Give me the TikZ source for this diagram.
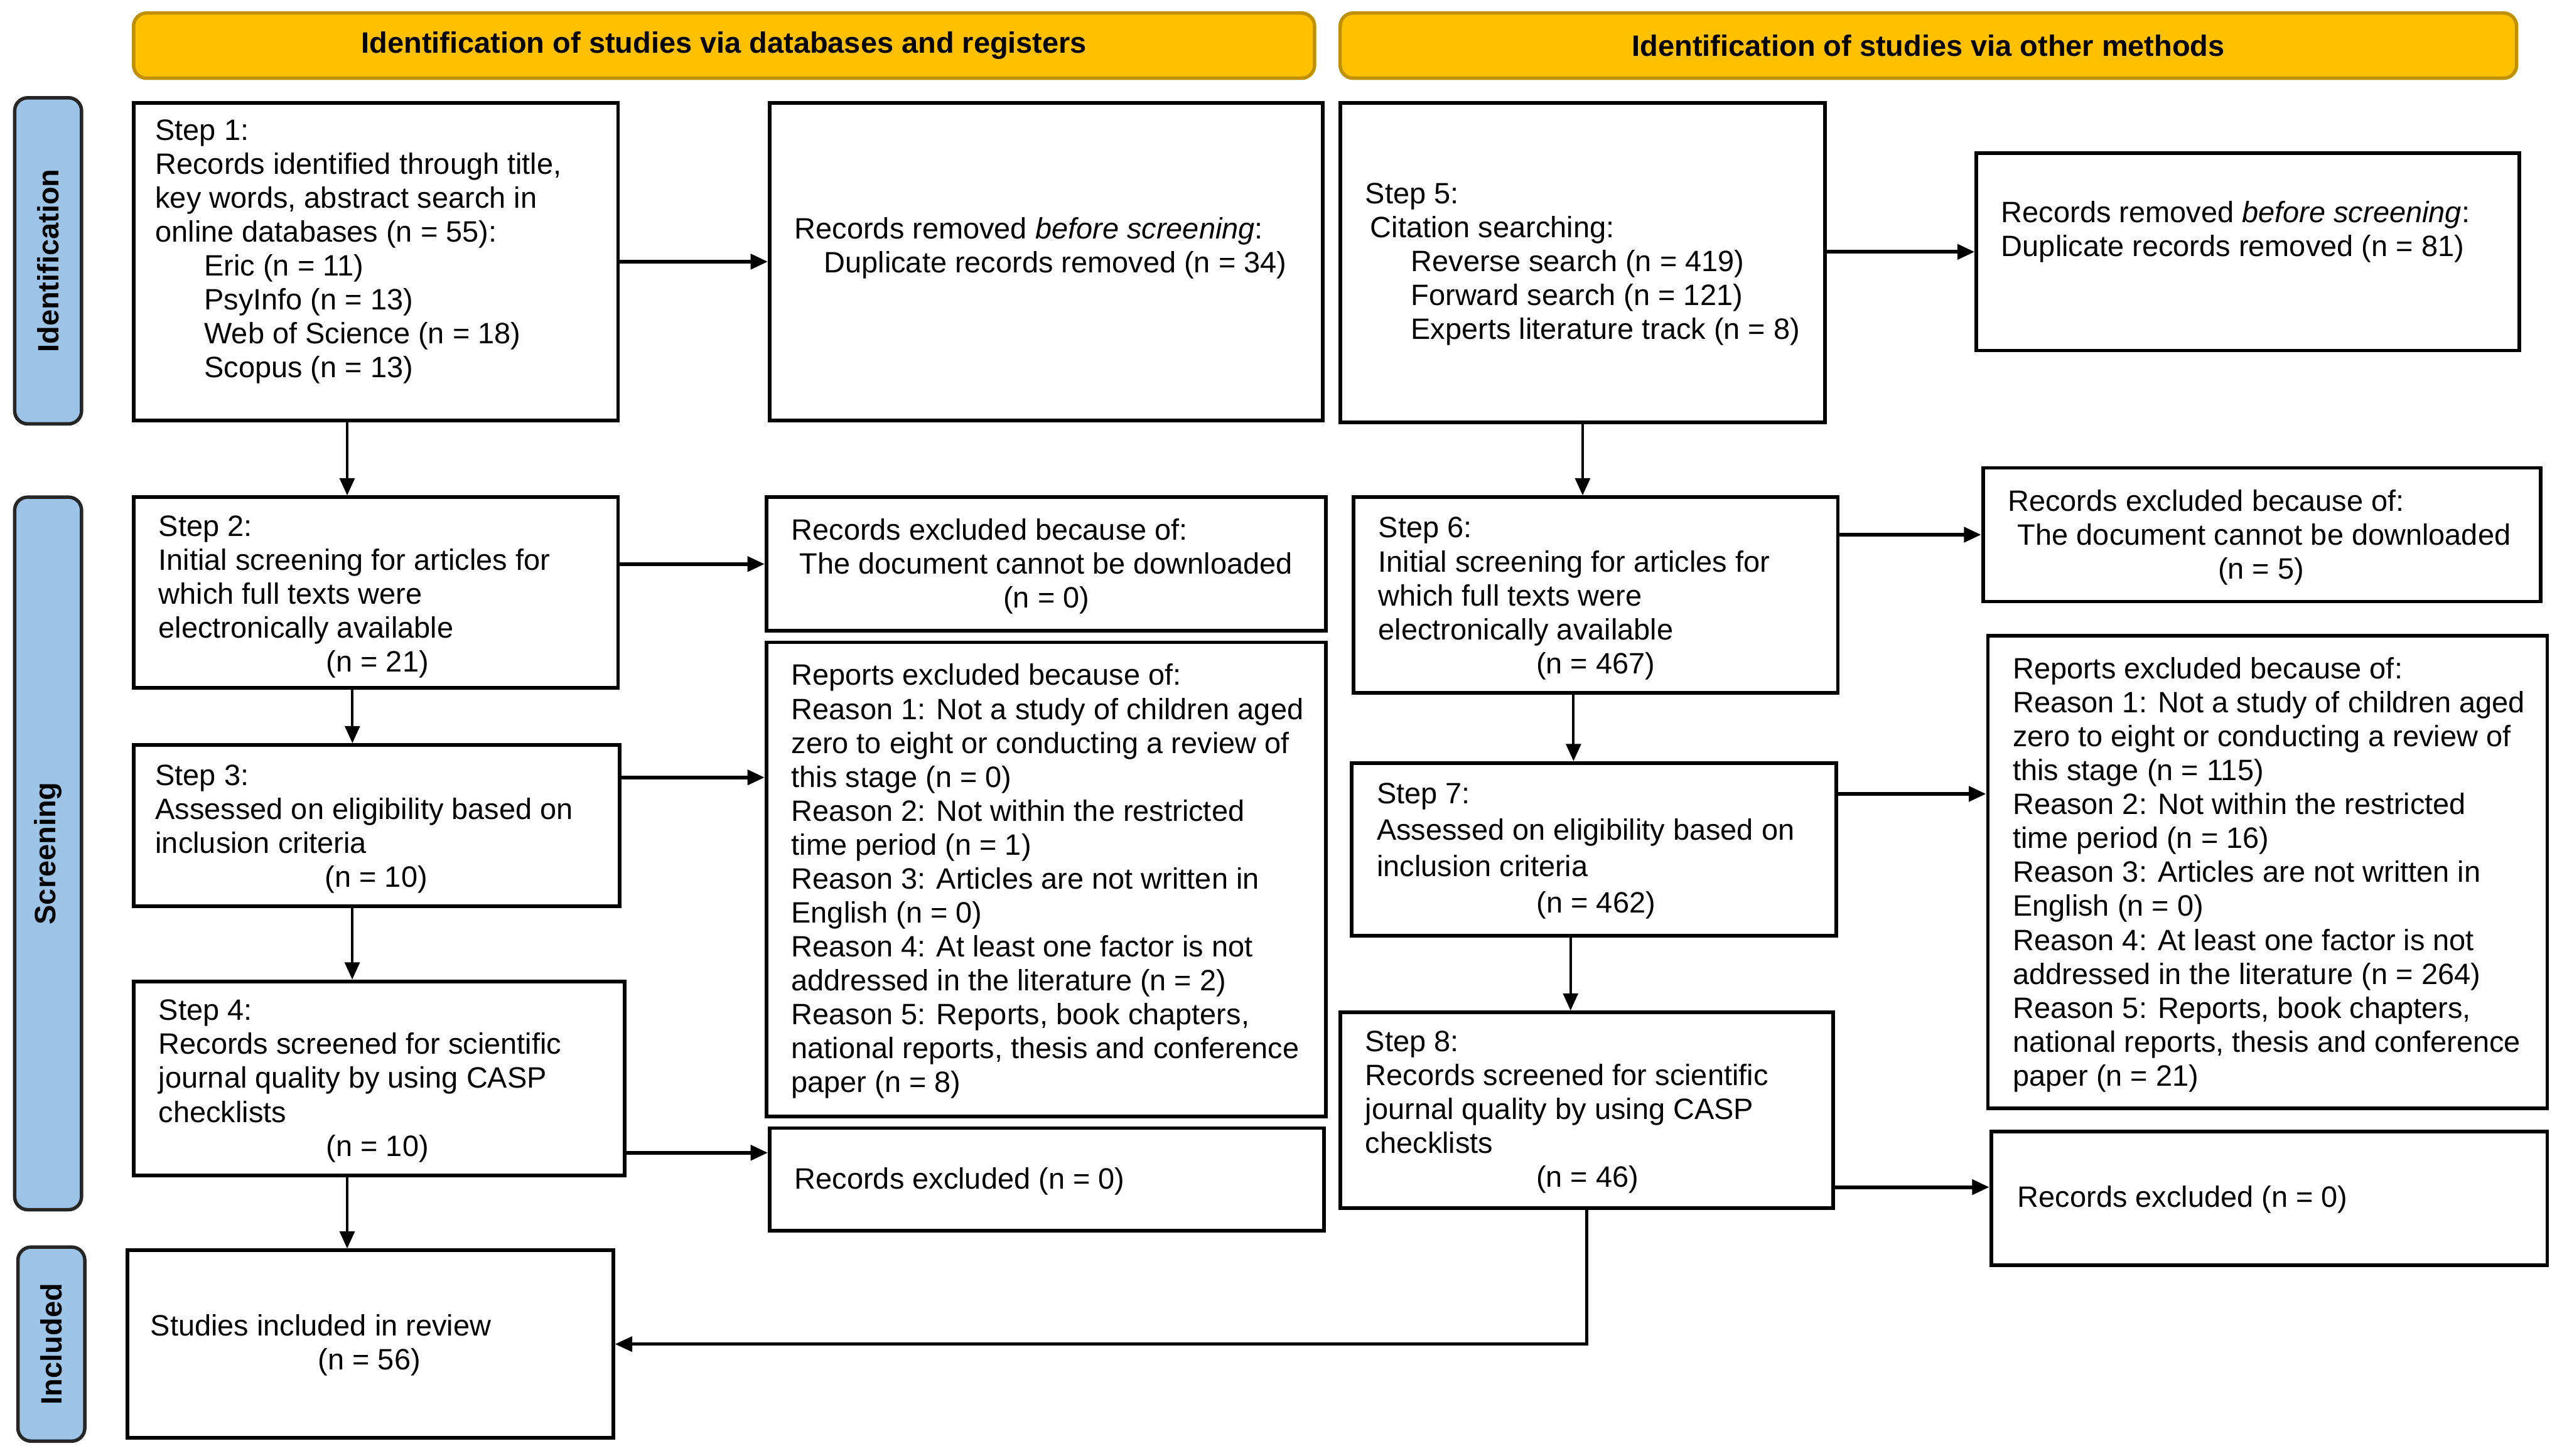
\documentclass[tikz,border=0pt]{standalone}
\usepackage{fontspec}
\setmainfont{Liberation Sans}
\usetikzlibrary{arrows.meta}
\definecolor{hdrfill}{HTML}{FFC000}
\definecolor{hdrline}{HTML}{BF9000}
\definecolor{sidefill}{HTML}{9DC3E6}
\newcommand{\fs}{\fontsize{12.85}{14.8}\selectfont}
\tikzset{
	box/.style={draw, line width=1.6pt, inner sep=0pt},
	txt/.style={anchor=north west, inner sep=0pt, align=left, font=\fs},
	hdr/.style={draw=hdrline, fill=hdrfill, line width=1.5pt, rounded corners=0.2cm, font=\fs\bfseries, minimum height=1cm},
	side/.style={draw=black!85, fill=sidefill, line width=1.5pt, rounded corners=0.2cm, rotate=90, font=\fs\bfseries, minimum height=1.025cm},
	harr/.style={-{Triangle[length=7.5pt,width=6.5pt]}, line width=1.6pt},
	varr/.style={-{Triangle[length=7.5pt,width=6.5pt]}, line width=1.1pt}
}
\begin{document}
\begin{tikzpicture}[x=0.025cm, y=-0.025cm]
		\useasboundingbox (0,0) rectangle (1568,893);
		% Kopfzeilen
		\node[hdr, minimum width=18.1cm] (hd1) at (444,28) {Identification of studies via databases and registers};
		\node[hdr, minimum width=18.03cm] (hd2) at (1182.5,28) {Identification of studies via other methods};
		% Phasen
		\node[side, minimum width=5cm] (sid) at (29.5,160) {Identification};
		\node[side, minimum width=10.925cm] (sscr) at (29.5,523.5) {Screening};
		\node[side, minimum width=2.975cm] (sinc) at (31.5,824.5) {Included};
		% Kaesten
		\foreach \nm/\xa/\ya/\xb/\yb in {
			s1/82/63/379/258,
			r1/472/63/811/258,
			s5/822/63/1119/259,
			r2/1212/94/1545/215,
			s2/82/305/379/422,
			e1/470/305/813/387,
			s6/830/305/1127/425,
			e2/1216/287/1558/369,
			s3/82/457/380/556,
			rp1/470/394/813/685,
			s7/829/468/1126/574,
			rp2/1219/390/1562/680,
			s4/82/602/383/721,
			ez1/472/692/812/755,
			s8/822/621/1124/741,
			ez2/1221/694/1562/776,
			inc/78/767/376/882
		} {
			\pgfmathsetmacro\bw{(\xb-\xa)*0.025}
			\pgfmathsetmacro\bh{(\yb-\ya)*0.025}
			\node[box, minimum width=\bw cm, minimum height=\bh cm] (\nm) at ({(\xa+\xb)/2},{(\ya+\yb)/2}) {};
		}
		% Texte links
		\node[txt] (s1t) at (95,73) {Step 1:\\Records identified through title,\\key words, abstract search in\\online databases (n = 55):\\\hspace*{0.75cm}Eric (n = 11)\\\hspace*{0.75cm}PsyInfo (n = 13)\\\hspace*{0.75cm}Web of Science (n = 18)\\\hspace*{0.75cm}Scopus (n = 13)};
		\node[txt] (s2t) at (97,316) {Step 2:\\Initial screening for articles for\\which full texts were\\electronically available\\\hspace*{2.57cm}(n = 21)};
		\node[txt] (s3t) at (95,469) {Step 3:\\Assessed on eligibility based on\\inclusion criteria\\\hspace*{2.6cm}(n = 10)};
		\node[txt] (s4t) at (97,613) {Step 4:\\Records screened for scientific\\journal quality by using CASP\\checklists\\\hspace*{2.57cm}(n = 10)};
		\node[txt] (inct) at (92,806) {Studies included in review\\\hspace*{2.57cm}(n = 56)};
		% Texte Mitte
		\node[txt] (r1t) at (487,133) {Records removed \textit{before screening}:\\\hspace*{0.45cm}Duplicate records removed (n = 34)};
		\node[txt] (e1t) at (485,318) {Records excluded because of:\\\hspace*{0.125cm}The document cannot be downloaded\\\hspace*{3.25cm}(n = 0)};
		\node[txt] (rp1t) at (485,407) {Reports excluded because of:\\Reason 1: Not a study of children aged\\zero to eight or conducting a review of\\this stage (n = 0)\\Reason 2: Not within the restricted\\time period (n = 1)\\Reason 3: Articles are not written in\\English (n = 0)\\Reason 4: At least one factor is not\\addressed in the literature (n = 2)\\Reason 5: Reports, book chapters,\\national reports, thesis and conference\\paper (n = 8)};
		\node[txt] (ez1t) at (487,716) {Records excluded (n = 0)};
		% Texte rechts
		\node[txt] (s5t) at (837,112) {Step 5:\\\hspace*{0.075cm}Citation searching:\\\hspace*{0.7cm}Reverse search (n = 419)\\\hspace*{0.7cm}Forward search (n = 121)\\\hspace*{0.7cm}Experts literature track (n = 8)};
		\node[txt] (s6t) at (845,317) {Step 6:\\Initial screening for articles for\\which full texts were\\electronically available\\\hspace*{2.42cm}(n = 467)};
		\node[txt, font=\fontsize{12.85}{15.9}\selectfont] (s7t) at (844,480) {Step 7:\\Assessed on eligibility based on\\inclusion criteria\\\hspace*{2.45cm}(n = 462)};
		\node[txt] (s8t) at (837,632) {Step 8:\\Records screened for scientific\\journal quality by using CASP\\checklists\\\hspace*{2.62cm}(n = 46)};
		\node[txt] (r2t) at (1227,123) {Records removed \textit{before screening}:\\Duplicate records removed (n = 81)};
		\node[txt] (e2t) at (1231,300) {Records excluded because of:\\\hspace*{0.15cm}The document cannot be downloaded\\\hspace*{3.22cm}(n = 5)};
		\node[txt] (rp2t) at (1234,403) {Reports excluded because of:\\Reason 1: Not a study of children aged\\zero to eight or conducting a review of\\this stage (n = 115)\\Reason 2: Not within the restricted\\time period (n = 16)\\Reason 3: Articles are not written in\\English (n = 0)\\Reason 4: At least one factor is not\\addressed in the literature (n = 264)\\Reason 5: Reports, book chapters,\\national reports, thesis and conference\\paper (n = 21)};
		\node[txt] (ez2t) at (1237,727) {Records excluded (n = 0)};
		% Pfeile nach unten
		\draw[varr] ([xshift=-0.44cm]s1.south) -- ([xshift=-0.44cm]s1.south |- s2.north);
		\draw[varr] ([xshift=-0.36cm]s2.south) -- ([xshift=-0.36cm]s2.south |- s3.north);
		\draw[varr] ([xshift=-0.375cm]s3.south) -- ([xshift=-0.375cm]s3.south |- s4.north);
		\draw[varr] ([xshift=-0.49cm]s4.south) -- ([xshift=-0.49cm]s4.south |- inc.north);
		\draw[varr] (s5.south) -- (s5.south |- s6.north);
		\draw[varr] ([xshift=-0.34cm]s6.south) -- ([xshift=-0.34cm]s6.south |- s7.north);
		\draw[varr] ([xshift=-0.36cm]s7.south) -- ([xshift=-0.36cm]s7.south |- s8.north);
		\draw[varr, line width=1.3pt] (s8.south) |- (inc.east);
		% Pfeile nach rechts
		\draw[harr] (s1) -- (r1);
		\draw[harr] (s2.east |- e1) -- (e1.west);
		\draw[harr] ([yshift=0.74cm]s3.east) -- ([yshift=0.74cm]s3.east -| rp1.west);
		\draw[harr] ([yshift=-1.14cm]s4.east) -- ([yshift=-1.14cm]s4.east -| ez1.west);
		\draw[harr] (s5.east |- r2) -- (r2.west);
		\draw[harr] (s6.east |- e2) -- (e2.west);
		\draw[harr] ([yshift=0.85cm]s7.east) -- ([yshift=0.85cm]s7.east -| rp2.west);
		\draw[harr] ([yshift=-1.18cm]s8.east) -- ([yshift=-1.18cm]s8.east -| ez2.west);
\end{tikzpicture}
\end{document}
